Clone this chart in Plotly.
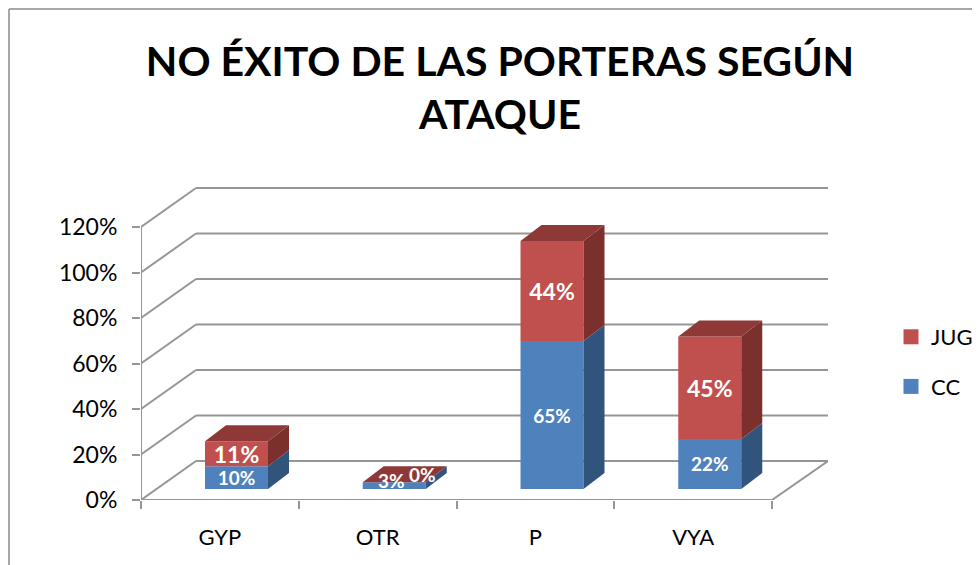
import plotly.graph_objects as go

# ---- data ----
categories = ["GYP", "OTR", "P", "VYA"]
cc_values = [10, 3, 65, 22]
jug_values = [11, 0, 44, 45]
y_ticks = [0, 20, 40, 60, 80, 100, 120]
y_tick_labels = ["0%", "20%", "40%", "60%", "80%", "100%", "120%"]
otr_labels = ["3%", "0%"]

# ---- colours ----
BLUE, BLUE_SIDE = "#4F81BD", "#31547C"
RED, RED_SIDE, RED_TOP = "#C0504D", "#7B302E", "#8E3937"
GRID = "#969696"

# ---- layout: the page has an 8 px body margin ----
OFF = 8
W, H = 980 - OFF, 565 - OFF
L, R, T, B = 141 - OFF, 828 - OFF, 186 - OFF, 500 - OFF

# ---- 3-D look, in axis units ----
UNIT_X = (772 - 141) / 4
UNIT_Y = 273 / 120
WALL_DX, WALL_DY = 55 / UNIT_X, 39 / UNIT_Y
BAR_W = 63 / UNIT_X
BAR_START = 64 / UNIT_X
BAR_DX, BAR_DY = 21 / UNIT_X, 16 / UNIT_Y
BASE = 11 / UNIT_Y

fig = go.Figure()
lefts = [i + BAR_START for i in range(len(categories))]
mids = [x + BAR_W / 2 for x in lefts]
cc_tops = [BASE + v for v in cc_values]
jug_tops = [c + v for c, v in zip(cc_tops, jug_values)]


def labels(values, skip_index=1):
    return ["" if i == skip_index else f"{v}%" for i, v in enumerate(values)]


fig.add_bar(x=mids, y=cc_values, base=[BASE] * 4, width=BAR_W, name="CC",
            marker=dict(color=BLUE, line_width=0), showlegend=False,
            text=labels(cc_values), textposition="inside", insidetextanchor="middle",
            textangle=0, constraintext="none",
            insidetextfont=dict(family="Lato", size=19, color="white", weight="bold"))
fig.add_bar(x=mids, y=jug_values, base=cc_tops, width=BAR_W, name="JUG",
            marker=dict(color=RED, line_width=0), showlegend=False,
            text=labels(jug_values), textposition="inside", insidetextanchor="middle",
            textangle=0, constraintext="none",
            insidetextfont=dict(family="Lato", size=23, color="white", weight="bold"))


def poly(xs, ys, color):
    fig.add_scatter(x=xs, y=ys, mode="lines", fill="toself", fillcolor=color,
                    line=dict(width=0, color=color), showlegend=False, hoverinfo="skip")


for x, c, j in zip(lefts, cc_tops, jug_tops):
    r = x + BAR_W
    poly([r, r + BAR_DX, r + BAR_DX, r], [BASE, BASE + BAR_DY, c + BAR_DY, c], BLUE_SIDE)
    poly([r, r + BAR_DX, r + BAR_DX, r], [c, c + BAR_DY, j + BAR_DY, j], RED_SIDE)
    poly([x, r, r + BAR_DX, x + BAR_DX], [j, j, j + BAR_DY, j + BAR_DY], RED_TOP)

# OTR labels sit on the top face of the very thin bar
fig.add_scatter(x=[mids[1] - 3 / UNIT_X, mids[1] + 28 / UNIT_X],
                y=[cc_tops[1] - 1 / UNIT_Y, jug_tops[1] + 5 / UNIT_Y],
                mode="text", text=otr_labels, showlegend=False, hoverinfo="skip",
                textfont=dict(family="Lato", size=19, color="white", weight="bold"))

# legend keys
for name, color, group in (("JUG", RED, "jug"), ("CC", BLUE, "cc")):
    fig.add_scatter(x=[None], y=[None], mode="markers", name=name, legendgroup=group,
                    marker=dict(symbol="square", size=15, color=color), hoverinfo="skip")

# ---- walls and floor ----
shapes = []
line = dict(color=GRID, width=2)


def seg(x0, y0, x1, y1):
    shapes.append(dict(type="line", xref="x", yref="y", x0=x0, y0=y0, x1=x1, y1=y1,
                       line=line, layer="below"))


x_right = (R - L) / UNIT_X
for v in y_ticks:
    seg(0, v, WALL_DX, v + WALL_DY)
    seg(WALL_DX, v + WALL_DY, x_right, v + WALL_DY)
seg(0, 0, 0, y_ticks[-1])
seg(0, 0, len(categories), 0)
seg(len(categories), 0, x_right, WALL_DY)

# chart frame (top and left edges)
frame = dict(color="#8A8A8A", width=1.5)
fx = (1 - L) / (R - L)
fx1 = (W - L) / (R - L)
fy = (B - 1) / (B - T)
fy0 = (B - H) / (B - T)
shapes.append(dict(type="line", xref="paper", yref="paper", x0=fx, x1=fx, y0=fy0, y1=fy, line=frame))
shapes.append(dict(type="line", xref="paper", yref="paper", x0=fx, x1=fx1, y0=fy, y1=fy, line=frame))

fig.update_layout(
    width=W, height=H, autosize=False,
    margin=dict(l=L, r=W - R, t=T, b=H - B, pad=0, autoexpand=False),
    paper_bgcolor="white", plot_bgcolor="rgba(0,0,0,0)",
    barmode="overlay", shapes=shapes,
    font=dict(family="Lato", color="black"),
    title=dict(text="NO ÉXITO DE LAS PORTERAS SEGÚN<br>ATAQUE",
               font=dict(family="Lato", size=41, color="black", weight="bold"),
               x=(500 - OFF - L) / (R - L), xanchor="center", xref="paper", y=1 - 68 / H, yanchor="top"),
    legend=dict(x=(891 - OFF - L) / (R - L), y=(B - 316 + OFF) / (B - T), xanchor="left", yanchor="top",
                traceorder="grouped", tracegroupgap=18, itemclick=False,
                font=dict(family="Lato", size=22, color="black"),
                bgcolor="rgba(0,0,0,0)"),
    xaxis=dict(range=[0, x_right], tickvals=[i + 0.5 for i in range(4)], ticktext=categories,
               ticks="", showgrid=False, zeroline=False, showline=False,
               ticklabelstandoff=22, tickfont=dict(family="Lato", size=22, color="black"),
               minor=dict(tickvals=list(range(5)), ticks="outside", ticklen=8,
                          tickcolor=GRID, tickwidth=2, showgrid=False)),
    yaxis=dict(range=[0, (B - T) / UNIT_Y], tickvals=y_ticks, ticktext=y_tick_labels,
               ticks="outside", ticklen=8, tickcolor=GRID, tickwidth=2,
               showgrid=False, zeroline=False, showline=False,
               ticklabelstandoff=10, tickfont=dict(family="Lato", size=23, color="black")),
)

fig.write_html("out.html")
